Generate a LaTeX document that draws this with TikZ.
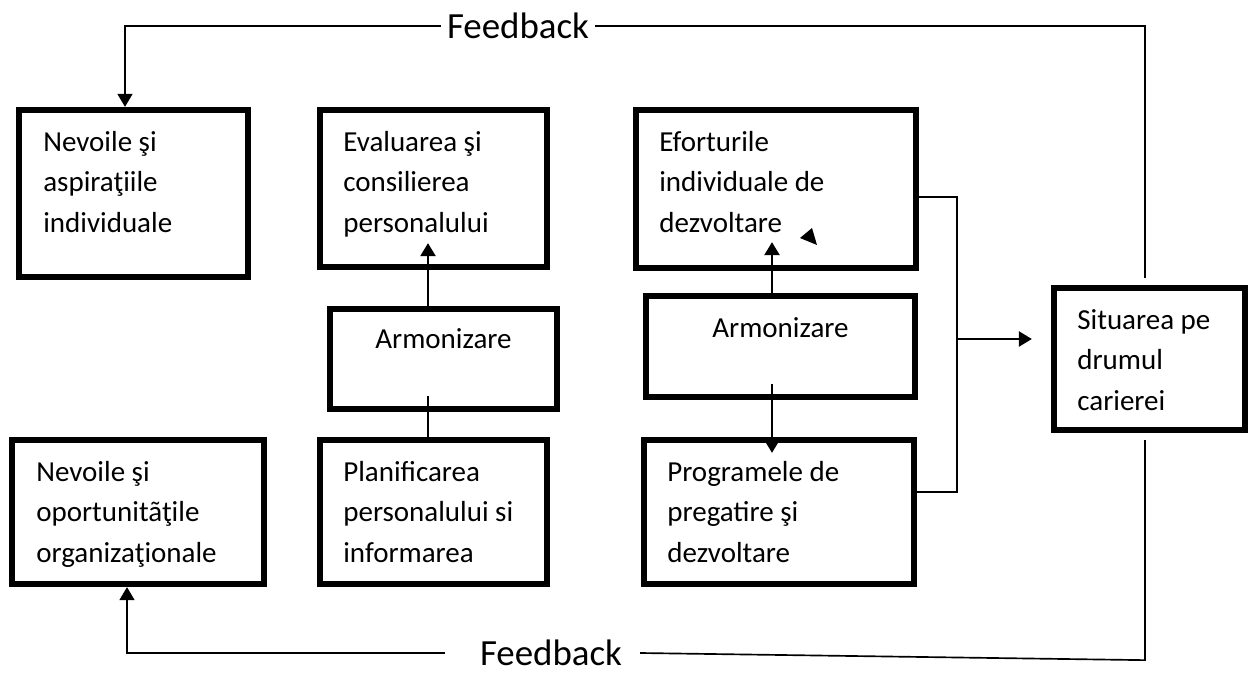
\documentclass[tikz,border=0pt]{standalone}
\usepackage{fontspec}
\setmainfont{Carlito}
\usepackage{tikz}
\usetikzlibrary{arrows.meta, calc}

\begin{document}
\begin{tikzpicture}[x=0.02cm, y=-0.02cm, >={Triangle[length=0.26cm, width=0.3cm]},
    box/.style={draw, rectangle, line width=3.6pt, inner sep=0pt},
    boxtext/.style={anchor=base west, align=left, inner sep=0pt, font=\fontsize{16.5}{22.8}\selectfont},
    fbtext/.style={inner ysep=1pt, font=\fontsize{21}{25}\selectfont},
    fbline/.style={line width=0.95pt},
    arr/.style={line width=1.4pt, ->},
    conn/.style={line width=0.8pt}]
    \useasboundingbox (0,0) rectangle (1249,673);

    % Boxes
    \foreach \n/\x/\y/\w/\h in {nevind/133.5/193.5/4.58/3.34, evaluare/433.5/188.5/4.54/3.14,
        eforturi/776/189/5.6/3.16, armon1/443.5/359/4.54/2.0, armon2/780.5/346.5/5.38/2.02,
        orgnev/138/512/5.04/2.88, planif/433.5/512/4.54/2.88, programe/779/512/5.4/2.88,
        situare/1149.5/359/3.82/2.84}{
        \node[box, minimum width=\w cm, minimum height=\h cm] (\n) at (\x, \y) {};
    }

    % Box texts (anchored at the baseline of the last line)
    \node[boxtext] (tnevind) at (43, 232) {Nevoile şi\\aspiraţiile\\individuale};
    \node[boxtext] (tevaluare) at (343, 232) {Evaluarea şi\\consilierea\\personalului};
    \node[boxtext] (teforturi) at (659, 232) {Eforturile\\individuale de\\dezvoltare};
    \node[boxtext] (torgnev) at (36, 562) {Nevoile şi\\oportunitãţile\\organizaţionale};
    \node[boxtext] (tplanif) at (343, 562) {Planificarea\\personalului si\\informarea};
    \node[boxtext] (tprograme) at (667, 562) {Programele de\\pregatire şi\\dezvoltare};
    \node[boxtext] (tsituare) at (1077, 410) {Situarea pe\\drumul\\carierei};
    \node[boxtext, anchor=base] (tarmon1) at (443.5, 348) {Armonizare};
    \node[boxtext, anchor=base] (tarmon2) at (780.5, 337) {Armonizare};

    % Feedback labels
    \node[fbtext] (fbtop) at (518, 26) {Feedback};
    \node[fbtext] (fbbot) at (551, 653) {Feedback};

    % Feedback loops
    \draw[fbline] ([xshift=-0.09cm, yshift=0.14cm]situare.north) |- (fbtop.east);
    \draw[fbline, ->] (fbtop.west) -| ([xshift=-0.17cm]nevind.north);
    \draw[fbline] ([xshift=-0.09cm, yshift=-0.14cm]situare.south) -- ++(0, 220) -- ([xshift=0.24cm]fbbot.east);
    \draw[fbline, ->] ([xshift=-0.58cm]fbbot.west) -| ([xshift=-0.22cm]orgnev.south);

    % Armonizare links
    \coordinate (evaltip) at ([xshift=-0.11cm, yshift=0.54cm]evaluare.south);
    \coordinate (efotip) at ([xshift=-0.08cm, yshift=0.58cm]eforturi.south);
    \draw[arr] (armon1.north -| evaltip) -- (evaltip);
    \draw[conn] ([yshift=0.32cm]armon1.south -| evaltip) -- (planif.north -| evaltip);
    \draw[arr] (armon2.north -| efotip) -- (efotip);
    \draw[arr] ([yshift=0.32cm]armon2.south -| efotip) -- ([yshift=-0.32cm]programe.north -| efotip);
    \fill (800, 238) -- (812, 228) -- (817, 245) -- cycle;

    % Towards the career path
    \coordinate (join) at (957, 339);
    \coordinate (progin) at ([yshift=0.4cm]programe.east);
    \coordinate (sitin) at (join -| situare.west);
    \draw[conn] ([yshift=-0.16cm]eforturi.east) -| (progin -| join) -- (progin);
    \draw[arr] (join) -- ([xshift=-0.38cm]sitin);
\end{tikzpicture}
\end{document}
